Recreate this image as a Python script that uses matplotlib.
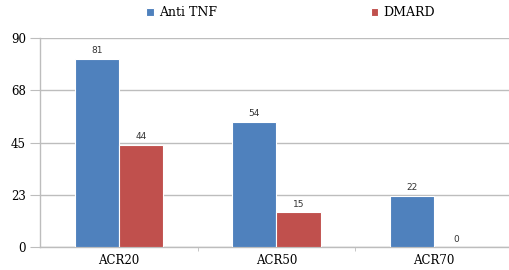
import matplotlib
matplotlib.use("Agg")
import matplotlib.pyplot as plt
import numpy as np

categories = ["ACR20", "ACR50", "ACR70"]
anti_tnf = [81, 54, 22]
dmard = [44, 15, 0]
series_names = ["Anti TNF", "DMARD"]
yticks = [0, 22.5, 45, 67.5, 90]
ytick_labels = ["0", "23", "45", "68", "90"]

blue = "#4F81BD"
red = "#C0504D"
grid_col = "#BDBDBD"

fig = plt.figure(figsize=(5.09, 2.70), dpi=100)
ax = fig.add_axes([0.0786, 0.085, 0.929, 0.774])

x = np.arange(len(categories))
w = 0.28
b1 = ax.bar(x - w / 2, anti_tnf, w, color=blue, edgecolor="white", linewidth=0.8,
            label=series_names[0], zorder=3)
b2 = ax.bar(x + w / 2, dmard, w, color=red, edgecolor="white", linewidth=0.8,
            label=series_names[1], zorder=3)

for bars, vals in ((b1, anti_tnf), (b2, dmard)):
    for r, v in zip(bars, vals):
        ax.text(r.get_x() + r.get_width() / 2, v + 1.5, str(v), ha="center", va="bottom",
                fontsize=6.5, family="DejaVu Sans", color="#333333")

ax.set_xlim(-0.5, 2.5)
ax.set_ylim(0, 90)
ax.set_yticks(yticks)
ax.set_yticklabels(ytick_labels, family="DejaVu Serif", fontsize=8.5)
ax.set_xticks(x)
ax.set_xticklabels(categories, family="DejaVu Serif", fontsize=8.5)
ax.set_xticks([0.5, 1.5], minor=True)
ax.tick_params(axis="x", which="major", length=0, pad=5)
ax.tick_params(axis="x", which="minor", length=3, color=grid_col, direction="out")
ax.tick_params(axis="y", length=7, color=grid_col, pad=3)

ax.yaxis.grid(True, color=grid_col, linewidth=1.0, zorder=0)
for s in ["top", "right"]:
    ax.spines[s].set_visible(False)
for s in ["left", "bottom"]:
    ax.spines[s].set_color(grid_col)
    ax.spines[s].set_linewidth(1.0)

ax.legend(handles=[b1, b2], loc="upper center", bbox_to_anchor=(0.53, 1.205), ncol=2,
          frameon=False, prop={"family": "DejaVu Serif", "size": 9},
          handlelength=0.6, handleheight=0.5, columnspacing=12.3, handletextpad=0.4)

fig.savefig("out.png", dpi=100)
